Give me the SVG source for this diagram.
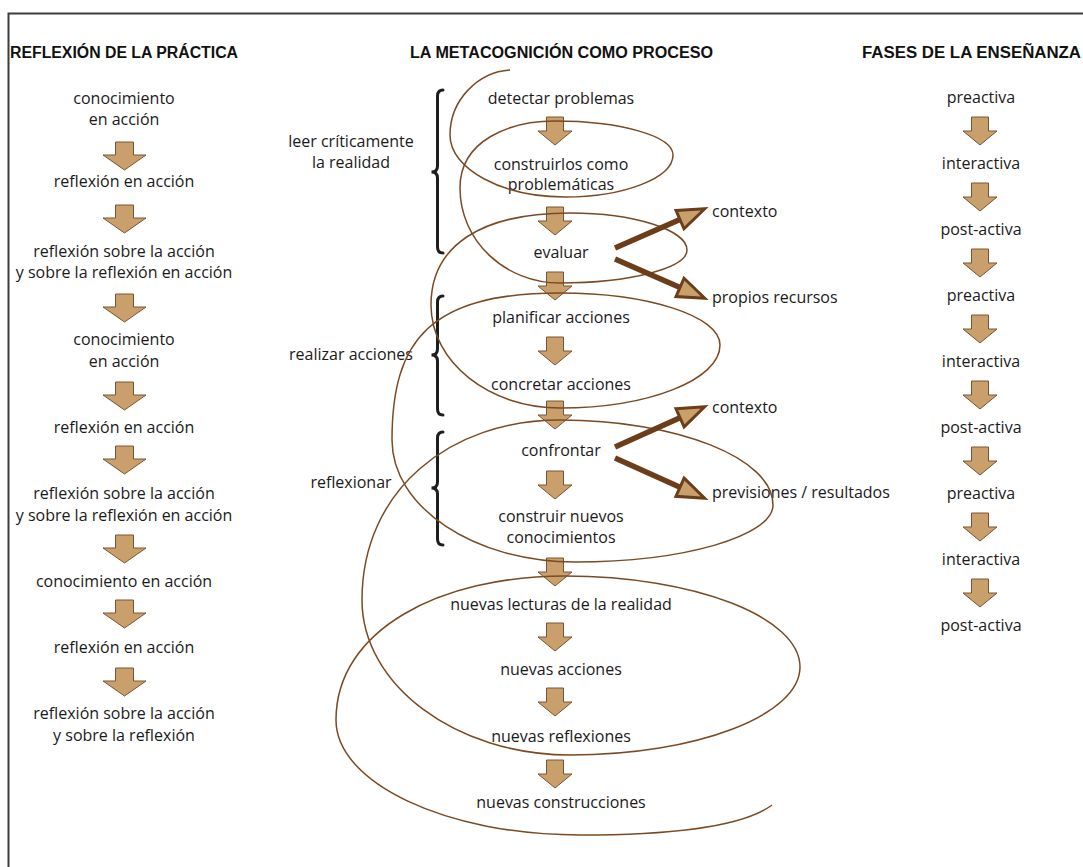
<svg xmlns="http://www.w3.org/2000/svg" width="1083" height="867" viewBox="0 0 1083 867">
  <style>
    .t { font-family: "Open Sans", "Noto Sans", "DejaVu Sans", sans-serif; font-size: 16px; fill: #1a1a1a; text-anchor: middle; }
    .tl { font-family: "Open Sans", "Noto Sans", "DejaVu Sans", sans-serif; font-size: 16px; fill: #1a1a1a; }
    .h { font-family: "Liberation Sans", Arial, sans-serif; font-weight: bold; font-size: 16px; fill: #111; }
    .blk { fill: #c9a06c; stroke: #7a5432; stroke-width: 1; }
    .brace { fill: none; stroke: #1e1e1e; stroke-width: 3; stroke-linecap: round; }
    .spiral { fill: none; stroke: #7b4a22; stroke-width: 1.5; }
    .thick { fill: none; stroke: #6b3d1a; stroke-width: 5.5; marker-end: url(#head); }
    .frame { fill: none; stroke: #3c3c3c; stroke-width: 2; }
  </style>
  <defs>
    <!-- wide block arrow used in the left column -->
    <path id="dw" class="blk" d="M-9,0 H9 V13 H21.5 L0,28 L-21.5,13 H-9 Z"/>
    <!-- narrower block arrow used in the middle and right columns -->
    <path id="dn" class="blk" d="M-8.5,0 H8.5 V14 H17 L0,28 L-17,14 H-8.5 Z"/>
    <marker id="head" markerUnits="userSpaceOnUse" orient="auto" refX="0" refY="0" markerWidth="40" markerHeight="40" viewBox="-4 -14 34 28" overflow="visible">
      <path d="M0,-8.5 L23,0 L0,8.5 Z" fill="#c9a06c" stroke="#6b3d1a" stroke-width="2.5" stroke-linejoin="miter"/>
    </marker>
  </defs>

  <rect width="1083" height="867" fill="#ffffff"/>
  <path class="frame" d="M8.5,867 V13.5 H1083"/>

  <!-- column headings -->
  <text class="h" x="10" y="58" textLength="228" lengthAdjust="spacingAndGlyphs">REFLEXIÓN DE LA PRÁCTICA</text>
  <text class="h" x="410" y="58" textLength="303" lengthAdjust="spacingAndGlyphs">LA METACOGNICIÓN COMO PROCESO</text>
  <text class="h" x="862" y="58" textLength="219" lengthAdjust="spacingAndGlyphs">FASES DE LA ENSEÑANZA</text>

  <!-- left column: practice reflection -->
  <g id="practica">
    <g id="p1"><text class="t" x="124" y="104">conocimiento</text><text class="t" x="124" y="125">en acción</text></g>
    <g id="p2"><text class="t" x="124" y="187">reflexión en acción</text></g>
    <g id="p3"><text class="t" x="124" y="257">reflexión sobre la acción</text><text class="t" x="124" y="278">y sobre la reflexión en acción</text></g>
    <g id="p4"><text class="t" x="124" y="345">conocimiento</text><text class="t" x="124" y="367">en acción</text></g>
    <g id="p5"><text class="t" x="124" y="433">reflexión en acción</text></g>
    <g id="p6"><text class="t" x="124" y="499">reflexión sobre la acción</text><text class="t" x="124" y="521">y sobre la reflexión en acción</text></g>
    <g id="p7"><text class="t" x="124" y="587">conocimiento en acción</text></g>
    <g id="p8"><text class="t" x="124" y="653">reflexión en acción</text></g>
    <g id="p9"><text class="t" x="124" y="719">reflexión sobre la acción</text><text class="t" x="124" y="741">y sobre la reflexión</text></g>
  </g>

  <!-- middle column: metacognition steps -->
  <g id="proceso">
    <g id="m1"><text class="t" x="561" y="104">detectar problemas</text></g>
    <g id="m2"><text class="t" x="561" y="170">construirlos como</text><text class="t" x="561" y="190">problemáticas</text></g>
    <g id="m3"><text class="t" x="561" y="258">evaluar</text></g>
    <g id="m4"><text class="t" x="561" y="323">planificar acciones</text></g>
    <g id="m5"><text class="t" x="561" y="390">concretar acciones</text></g>
    <g id="m6"><text class="t" x="561" y="456">confrontar</text></g>
    <g id="m7"><text class="t" x="561" y="522">construir nuevos</text><text class="t" x="561" y="543">conocimientos</text></g>
    <g id="m8"><text class="t" x="561" y="610">nuevas lecturas de la realidad</text></g>
    <g id="m9"><text class="t" x="561" y="675">nuevas acciones</text></g>
    <g id="m10"><text class="t" x="561" y="742">nuevas reflexiones</text></g>
    <g id="m11"><text class="t" x="561" y="808">nuevas construcciones</text></g>
  </g>

  <!-- grouping labels with braces -->
  <g id="g-leer">
    <text class="t" x="351" y="147">leer críticamente</text>
    <text class="t" x="351" y="168">la realidad</text>
    <path class="brace" d="M443,90 Q437.5,90 437.5,96 V166 Q437.5,172 431.5,172 Q437.5,172 437.5,178 V247 Q437.5,253 443,253"/>
  </g>
  <g id="g-realizar">
    <text class="t" x="351" y="360">realizar acciones</text>
    <path class="brace" d="M443,296 Q437.5,296 437.5,302 V349 Q437.5,355 431.5,355 Q437.5,355 437.5,361 V409 Q437.5,415 443,415"/>
  </g>
  <g id="g-reflexionar">
    <text class="t" x="351" y="488">reflexionar</text>
    <path class="brace" d="M443,432 Q437.5,432 437.5,438 V482 Q437.5,488 431.5,488 Q437.5,488 437.5,494 V539 Q437.5,545 443,545"/>
  </g>

  <!-- side outcomes -->
  <g id="o1"><text class="tl" x="712" y="217">contexto</text></g>
  <g id="o2"><text class="tl" x="712" y="303">propios recursos</text></g>
  <g id="o3"><text class="tl" x="712" y="413">contexto</text></g>
  <g id="o4"><text class="tl" x="712" y="498">previsiones / resultados</text></g>

  <!-- right column: teaching phases -->
  <g id="fases">
    <g id="f1"><text class="t" x="981" y="103">preactiva</text></g>
    <g id="f2"><text class="t" x="981" y="169">interactiva</text></g>
    <g id="f3"><text class="t" x="981" y="235">post-activa</text></g>
    <g id="f4"><text class="t" x="981" y="301">preactiva</text></g>
    <g id="f5"><text class="t" x="981" y="367">interactiva</text></g>
    <g id="f6"><text class="t" x="981" y="433">post-activa</text></g>
    <g id="f7"><text class="t" x="981" y="499">preactiva</text></g>
    <g id="f8"><text class="t" x="981" y="565">interactiva</text></g>
    <g id="f9"><text class="t" x="981" y="631">post-activa</text></g>
  </g>

  <g id="connectors">
    <!-- left column flow -->
    <use href="#dw" x="124.5" y="142"/>
    <use href="#dw" x="124.5" y="205"/>
    <use href="#dw" x="124.5" y="294"/>
    <use href="#dw" x="124.5" y="382"/>
    <use href="#dw" x="124.5" y="446"/>
    <use href="#dw" x="124.5" y="535"/>
    <use href="#dw" x="124.5" y="600"/>
    <use href="#dw" x="124.5" y="668"/>

    <!-- middle column flow -->
    <use href="#dn" x="555" y="117"/>
    <use href="#dn" x="555" y="207"/>
    <use href="#dn" x="555" y="272"/>
    <use href="#dn" x="555" y="337"/>
    <use href="#dn" x="555" y="401"/>
    <use href="#dn" x="555" y="471"/>
    <use href="#dn" x="555" y="558"/>
    <use href="#dn" x="555" y="623"/>
    <use href="#dn" x="555" y="688"/>
    <use href="#dn" x="555" y="760"/>

    <!-- right column flow -->
    <use href="#dn" x="980" y="117"/>
    <use href="#dn" x="980" y="183"/>
    <use href="#dn" x="980" y="249"/>
    <use href="#dn" x="980" y="315"/>
    <use href="#dn" x="980" y="381"/>
    <use href="#dn" x="980" y="447"/>
    <use href="#dn" x="980" y="513"/>
    <use href="#dn" x="980" y="579"/>

    <!-- widening spiral around the process -->
    <path class="spiral" d="M510,70
      C478,72 450,100 450,135
      C450,169 502,197 565,197
      C624,197 673,178 673,155
      C673,136 620,121 555,121
      C510,121 460,140 460,188
      C460,241 505,283 560,283
      C630,283 687,268 687,250
      C687,230 634,213 570,213
      C482,213 431,245 431,305
      C431,362 489,408 560,408
      C648,408 720,380 720,345
      C720,316 648,293 560,293
      C430,293 392,340 392,440
      C392,507 474,562 575,562
      C684,562 773,536 773,505
      C773,458 677,420 560,420
      C450,420 362,490 362,600
      C362,685 456,755 570,755
      C697,755 800,715 800,667
      C800,617 694,576 565,576
      C440,576 336,630 336,720
      C336,783 446,835 580,835
      C680,835 745,825 772,805"/>

    <!-- outcome arrows -->
    <path class="thick" d="M615,248 L680,219.6"/>
    <path class="thick" d="M615,259 L680,287.4"/>
    <path class="thick" d="M615,447 L680,417.8"/>
    <path class="thick" d="M615,458 L680,487.2"/>
  </g>
</svg>
